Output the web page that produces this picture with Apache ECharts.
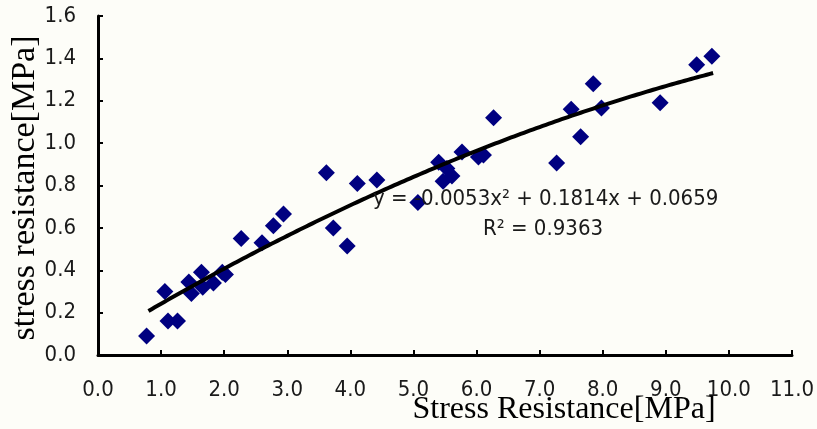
<!DOCTYPE html>
<html>
<head>
<meta charset="utf-8">
<script src="https://cdn.jsdelivr.net/npm/echarts@6/dist/echarts.min.js"></script>
<style>
  html, body { margin: 0; padding: 0; background: #fdfdf8; }
  #chart { width: 817px; height: 429px; }
</style>
</head>
<body>
<div id="chart"></div>
<script>
// measured points (x = Stress Resistance, y = stress resistance)
var pointsX = [0.77, 1.06, 1.11, 1.26, 1.44, 1.48, 1.64, 1.66, 1.83, 1.97, 2.02, 2.27,
               2.60, 2.78, 2.94, 3.62, 3.73, 3.95, 4.11, 4.42, 5.07, 5.40, 5.53, 5.47,
               5.61, 5.77, 6.03, 6.11, 6.27, 7.27, 7.50, 7.65, 7.85, 7.98, 8.91, 9.49, 9.73];
var pointsY = [0.09, 0.30, 0.16, 0.16, 0.345, 0.29, 0.39, 0.32, 0.34, 0.39, 0.38, 0.55,
               0.53, 0.61, 0.665, 0.86, 0.60, 0.515, 0.81, 0.826, 0.72, 0.91, 0.88, 0.82,
               0.845, 0.958, 0.934, 0.944, 1.12, 0.906, 1.16, 1.03, 1.28, 1.166, 1.19, 1.37, 1.41];
// trendline as printed on the chart: y = a x^2 + b x + c
var trendCoef = [-0.0053, 0.1814, 0.0659];
var trendRange = [0.8, 9.75];
var eqText = 'y = -0.0053x² + 0.1814x + 0.0659';
var r2Text = 'R² = 0.9363';

var scatterData = pointsX.map(function (x, i) { return [x, pointsY[i]]; });
var trendData = [];
for (var x = trendRange[0]; x <= trendRange[1] + 1e-9; x += 0.05) {
  trendData.push([x, trendCoef[0] * x * x + trendCoef[1] * x + trendCoef[2]]);
}

var tickFont = 'DejaVu Sans Condensed';
var chart = echarts.init(document.getElementById('chart'));
chart.setOption({
  backgroundColor: '#fdfdf8',
  animation: false,
  grid: { left: 98, right: 23, top: 16, bottom: 74 },
  xAxis: {
    type: 'value', min: 0, max: 11, interval: 1,
    splitLine: { show: false },
    axisLine: { show: true, onZero: false, lineStyle: { color: '#000', width: 3 } },
    axisTick: { inside: true, length: 5, lineStyle: { color: '#000', width: 2 } },
    axisLabel: {
      color: '#1a1a1a', fontFamily: tickFont, fontSize: 22, margin: 24,
      formatter: function (v) { return v.toFixed(1); }
    }
  },
  yAxis: {
    type: 'value', min: 0, max: 1.6, interval: 0.2,
    splitLine: { show: false },
    axisLine: { show: true, onZero: false, lineStyle: { color: '#000', width: 3 } },
    axisTick: { inside: true, length: 5, lineStyle: { color: '#000', width: 2 } },
    axisLabel: {
      color: '#1a1a1a', fontFamily: tickFont, fontSize: 22, margin: 22,
      formatter: function (v) { return v.toFixed(1); }
    }
  },
  graphic: [
    {
      type: 'text', x: 25, y: 188, rotation: Math.PI / 2, z: 10,
      style: {
        text: 'stress resistance[MPa]', fontFamily: 'Liberation Serif', fontSize: 34,
        fill: '#000', align: 'center', verticalAlign: 'middle'
      }
    },
    {
      type: 'text', x: 564, y: 410, z: 10,
      style: {
        text: 'Stress Resistance[MPa]', fontFamily: 'Liberation Serif', fontSize: 32,
        fill: '#000', align: 'center', verticalAlign: 'middle'
      }
    },
    {
      type: 'text', x: 373, y: 199, z: 10,
      style: {
        text: eqText, fontFamily: tickFont, fontSize: 22,
        fill: '#1a1a1a', align: 'left', verticalAlign: 'middle'
      }
    },
    {
      type: 'text', x: 483, y: 229, z: 10,
      style: {
        text: r2Text, fontFamily: tickFont, fontSize: 22,
        fill: '#1a1a1a', align: 'left', verticalAlign: 'middle'
      }
    }
  ],
  series: [
    {
      type: 'scatter', symbol: 'diamond', symbolSize: 17, z: 2,
      itemStyle: { color: '#000080', opacity: 1 },
      data: scatterData
    },
    {
      type: 'line', showSymbol: false, smooth: false, z: 3,
      lineStyle: { color: '#000', width: 4 },
      data: trendData
    }
  ]
});
</script>
</body>
</html>
